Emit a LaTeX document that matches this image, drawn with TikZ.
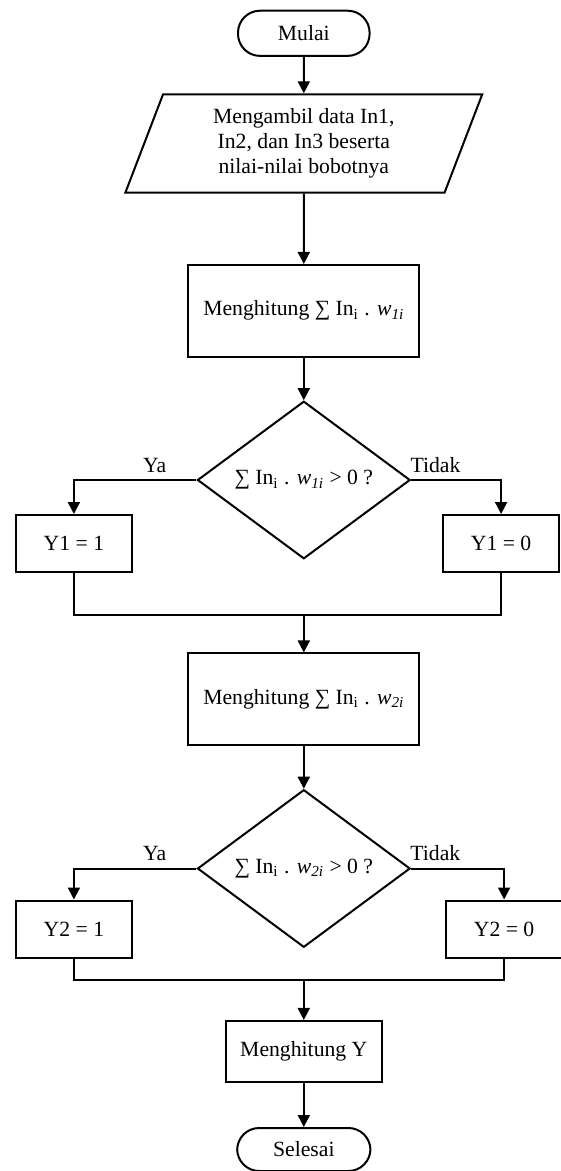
\documentclass[tikz,border=0pt]{standalone}
\usepackage{fontspec}
\setmainfont{Liberation Serif}
\usetikzlibrary{shapes,arrows,arrows.meta,positioning}

\begin{document}
\begin{tikzpicture}[node distance=84.6pt, auto,
  font=\fontsize{10.85}{12.1}\selectfont, line width=1pt,
  >={Triangle[length=6pt,width=6pt]},
  terminal/.style={draw, rectangle, rounded corners=11pt, minimum width=65.8pt, minimum height=22.6pt, inner sep=0pt},
  io/.style={draw, trapezium, trapezium left angle=61.6, trapezium right angle=118.4, trapezium stretches body, minimum width=178.45pt, minimum height=49.2pt, align=center, inner sep=0pt, font=\fontsize{10.85}{12.5}\selectfont},
  process/.style={draw, rectangle, minimum width=115.5pt, minimum height=45.85pt},
  decision/.style={draw, diamond, minimum width=106.35pt, minimum height=73.35pt, inner sep=0pt},
  result/.style={draw, rectangle, minimum width=57.85pt, minimum height=28.5pt}]
\useasboundingbox (0,0) rectangle (280.5pt,-585.5pt);

\node (start) [terminal] at (151.9pt,-16.65pt) {Mulai};
\node (input) [io, below of=start, node distance=55.1pt] {Mengambil data In1,\\ In2, dan In3 beserta\\ nilai-nilai bobotnya};
\node (hitung1) [process, below of=input, node distance=83.65pt] {Menghitung ∑ In\textsubscript{i} . \textit{w}\textsubscript{\textit{1i}}};
\node (cek1) [decision, below of=hitung1] {∑ In\textsubscript{i} . \textit{w}\textsubscript{\textit{1i}} > 0 ?};
\node (ya1) [result, below of=cek1, node distance=31.75pt, xshift=-114.95pt] {Y1 = 1};
\node (tidak1) [result, below of=cek1, node distance=31.75pt, xshift=98.65pt] {Y1 = 0};
\node (gabung1) [coordinate, below of=cek1, node distance=67.5pt] {};

\node (hitung2) [process, below of=cek1, node distance=109.65pt] {Menghitung ∑ In\textsubscript{i} . \textit{w}\textsubscript{\textit{2i}}};
\node (cek2) [decision, below of=hitung2] {∑ In\textsubscript{i} . \textit{w}\textsubscript{\textit{2i}} > 0 ?};
\node (ya2) [result, below of=cek2, node distance=30.25pt, xshift=-114.95pt] {Y2 = 1};
\node (tidak2) [result, below of=cek2, node distance=30.25pt, xshift=100.15pt] {Y2 = 0};
\node (gabung2) [coordinate, below of=cek2, node distance=55.75pt] {};

\node (hitungY) [draw, rectangle, minimum width=78.3pt, minimum height=30.75pt, below of=cek2, node distance=91.6pt] {Menghitung Y};
\node (stop) [terminal, below of=hitungY, node distance=48.9pt, minimum width=66.65pt, minimum height=21.5pt] {Selesai};

\draw[->] (start) -- (input);
\draw[->] (input) -- (hitung1);
\draw[->] (hitung1) -- (cek1);
\draw[->] (cek1.west) -| (ya1.north) node[pos=0.17, above] {Ya};
\draw[->] (cek1.east) -| (tidak1.north) node[pos=0.135, above] {Tidak};
\draw (ya1) |- (gabung1);
\draw (tidak1) |- (gabung1);
\draw[->] (gabung1) -- (hitung2);

\draw[->] (hitung2) -- (cek2);
\draw[->] (cek2.west) -| (ya2.north) node[pos=0.17, above] {Ya};
\draw[->] (cek2.east) -| (tidak2.north) node[pos=0.13, above] {Tidak};
\draw (ya2) |- (gabung2);
\draw (tidak2) |- (gabung2);
\draw[->] (gabung2) -- (hitungY);
\draw[->] (hitungY) -- (stop);
\end{tikzpicture}
\end{document}
